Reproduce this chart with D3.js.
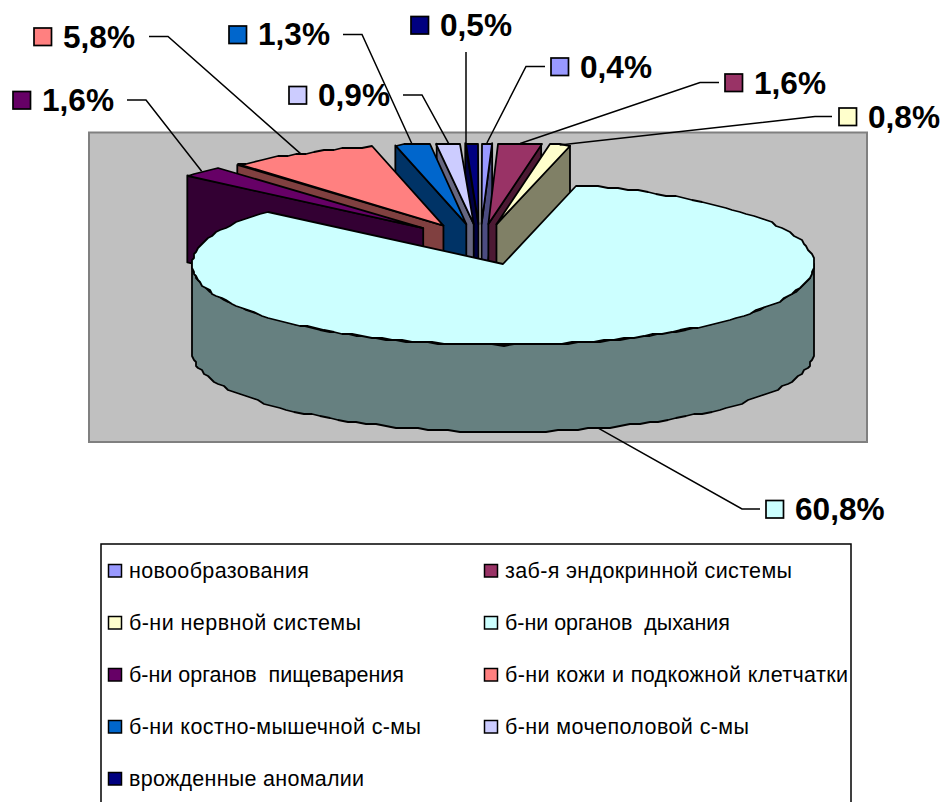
<!DOCTYPE html>
<html lang="ru">
<head>
<meta charset="utf-8">
<script src="https://cdn.jsdelivr.net/npm/d3@7/dist/d3.min.js"></script>
<style>
  html, body { margin: 0; padding: 0; background: #fff; overflow: hidden; }
  svg { display: block; }
  text { font-family: "Liberation Sans", Arial, sans-serif; white-space: pre; fill: #000; }
  .pct { font-weight: 700; font-size: 31.6px; }
  .leg { font-size: 21.5px; }
</style>
</head>
<body>
<svg id="chart" width="940" height="802"></svg>
<script>
// Структура заболеваемости по классам болезней
const categories = [
  "новообразования", "заб-я эндокринной системы", "б-ни нервной системы",
  "б-ни органов  дыхания", "б-ни органов  пищеварения", "б-ни кожи и подкожной клетчатки",
  "б-ни костно-мышечной с-мы", "б-ни мочеполовой с-мы", "врожденные аномалии"
];
const shares = [0.4, 1.6, 0.8, 60.8, 1.6, 5.8, 1.3, 0.9, 0.5];
const topColors  = ["#9999FF", "#993366", "#FFFFCC", "#CCFFFF", "#660066", "#FF8080", "#0066CC", "#CCCCFF", "#000080"];
const wallColors = ["#4C4C80", "#4C1933", "#808066", "#668080", "#330033", "#804040", "#003366", "#666680", "#000040"];

// Расположение подписей: квадрат-ключ, текст и излом выноски
const labelX      = [580, 754, 868, 795, 42, 63, 258, 318, 440];
const labelY      = [78, 94, 128, 520, 111, 48, 45, 106, 36];
const elbowX      = [526, 700, 815, 742, 146, 168, 362, 422, 466];
const leaderEndX  = [545, 719, 832, 760, 127, 149, 343, 403, 466];
const leaderEndY  = [66.5, 82.5, 116.5, 509, 100, 36.5, 34.5, 95, 52];

// Ширины строк легенды
const legendWidths = [180, 287, 232, 225, 275, 343, 292, 244, 235];

const svg = d3.select("#chart");

// Геометрия псевдообъёмной круговой диаграммы
const cx = 503, cy = 264, rx = 311, ry = 81, depth = 87;
const bigIndex = shares.indexOf(d3.max(shares));

const slices = d3.pie().sort(null).value(d => d).startAngle(0).endAngle(2 * Math.PI)(shares);

// Смещение выдвинутого сектора относительно центра главного сектора
function shift(i) {
  if (i === bigIndex) return [0, 0];
  const m = (slices[i].startAngle + slices[i].endAngle) / 2;
  return [80 * Math.sin(m) - 22.8, -(14 * Math.cos(m) + 26)];
}
// Точка плоскости диаграммы: угол по часовой стрелке от верхней точки
function point(i, a, r = 1, dz = 0) {
  const [dx, dy] = shift(i);
  return [cx + dx + rx * r * Math.sin(a), cy + dy - ry * r * Math.cos(a) + dz];
}
// Дуга строится грубой ломаной с округлением, как у старых графических движков
const snap = p => [Math.round(p[0] / 2) * 2, Math.round(p[1] / 2) * 2];
function arcPoints(i, a0, a1, dz = 0) {
  const n = Math.max(1, Math.ceil(Math.abs(a1 - a0) / (Math.PI / 90)));
  return d3.range(n + 1).map(k => snap(point(i, a0 + (a1 - a0) * k / n, 1, dz)));
}
const line = d3.line();
const closed = pts => line(pts) + "Z";

const gBack = svg.append("g");

// Подложка области построения
gBack.append("rect")
  .attr("x", 89).attr("y", 132.5).attr("width", 778).attr("height", 309.5)
  .attr("fill", "#C0C0C0").attr("stroke", "#808080").attr("stroke-width", 2);

const pie = svg.append("g")
  .attr("stroke", "#000").attr("stroke-width", 1.8).attr("stroke-linejoin", "round");

// Порядок рисования: от центра к краям, большой сектор последним
const isLeft = i => i > bigIndex;
const order = [8, 7, 6, 5, 4, 0, 1, 2];
order.forEach(i => {
  const s = slices[i];
  const edge = isLeft(i) ? s.startAngle : s.endAngle;
  const apex = point(i, 0, 0);
  const outer = point(i, edge);
  pie.append("path").attr("fill", wallColors[i])
    .attr("d", closed([outer, apex, [apex[0], apex[1] + depth], [outer[0], outer[1] + depth]]));
  pie.append("path").attr("fill", topColors[i])
    .attr("d", closed([apex, ...arcPoints(i, s.startAngle, s.endAngle)]));
});

// Большой сектор: наружная стенка и верхняя грань
const big = slices[bigIndex];
const wallFrom = Math.PI / 2, wallTo = 3 * Math.PI / 2;
pie.append("path").attr("fill", wallColors[bigIndex])
  .attr("d", closed([...arcPoints(bigIndex, wallFrom, wallTo),
                     ...arcPoints(bigIndex, wallTo, wallFrom, depth)]));
pie.append("path").attr("fill", topColors[bigIndex])
  .attr("d", closed([point(bigIndex, 0, 0), ...arcPoints(bigIndex, big.startAngle, big.endAngle)]));

// Подписи долей с выносками
const fmt = v => d3.format(".1f")(v).replace(".", ",") + "%";
const labels = svg.append("g");
slices.forEach((s, i) => {
  const m = (s.startAngle + s.endAngle) / 2;
  const tip = point(i, m, 1, i === bigIndex ? depth : 0);
  const pts = elbowX[i] === leaderEndX[i]
    ? [[leaderEndX[i], leaderEndY[i]], tip.map((v, k) => k ? v : leaderEndX[i])]
    : [[leaderEndX[i], leaderEndY[i]], [elbowX[i], leaderEndY[i]], tip];
  labels.append("path").attr("d", line(pts)).attr("fill", "none")
    .attr("stroke", "#000").attr("stroke-width", 1.5);
  labels.append("rect")
    .attr("x", labelX[i] - 29).attr("y", leaderEndY[i] - (elbowX[i] === leaderEndX[i] ? 35.5 : 8.5))
    .attr("width", 17.5).attr("height", 17.5)
    .attr("fill", topColors[i]).attr("stroke", "#000").attr("stroke-width", 1.7);
  labels.append("text").attr("class", "pct")
    .attr("x", labelX[i]).attr("y", labelY[i]).text(fmt(shares[i]));
});

// Легенда
const legend = svg.append("g");
legend.append("rect")
  .attr("x", 101).attr("y", 544).attr("width", 750).attr("height", 300)
  .attr("fill", "#fff").attr("stroke", "#000").attr("stroke-width", 1.5);
categories.forEach((c, i) => {
  const col = i % 2, row = Math.floor(i / 2);
  const tx = col ? 505 : 129, ty = 578 + row * 52;
  legend.append("rect")
    .attr("x", tx - 20.5).attr("y", ty - 13.5).attr("width", 13).attr("height", 12.5)
    .attr("fill", topColors[i]).attr("stroke", "#000").attr("stroke-width", 1.5);
  legend.append("text").attr("class", "leg")
    .attr("x", tx).attr("y", ty)
    .attr("textLength", legendWidths[i]).attr("lengthAdjust", "spacing")
    .text(c);
});
</script>
</body>
</html>
